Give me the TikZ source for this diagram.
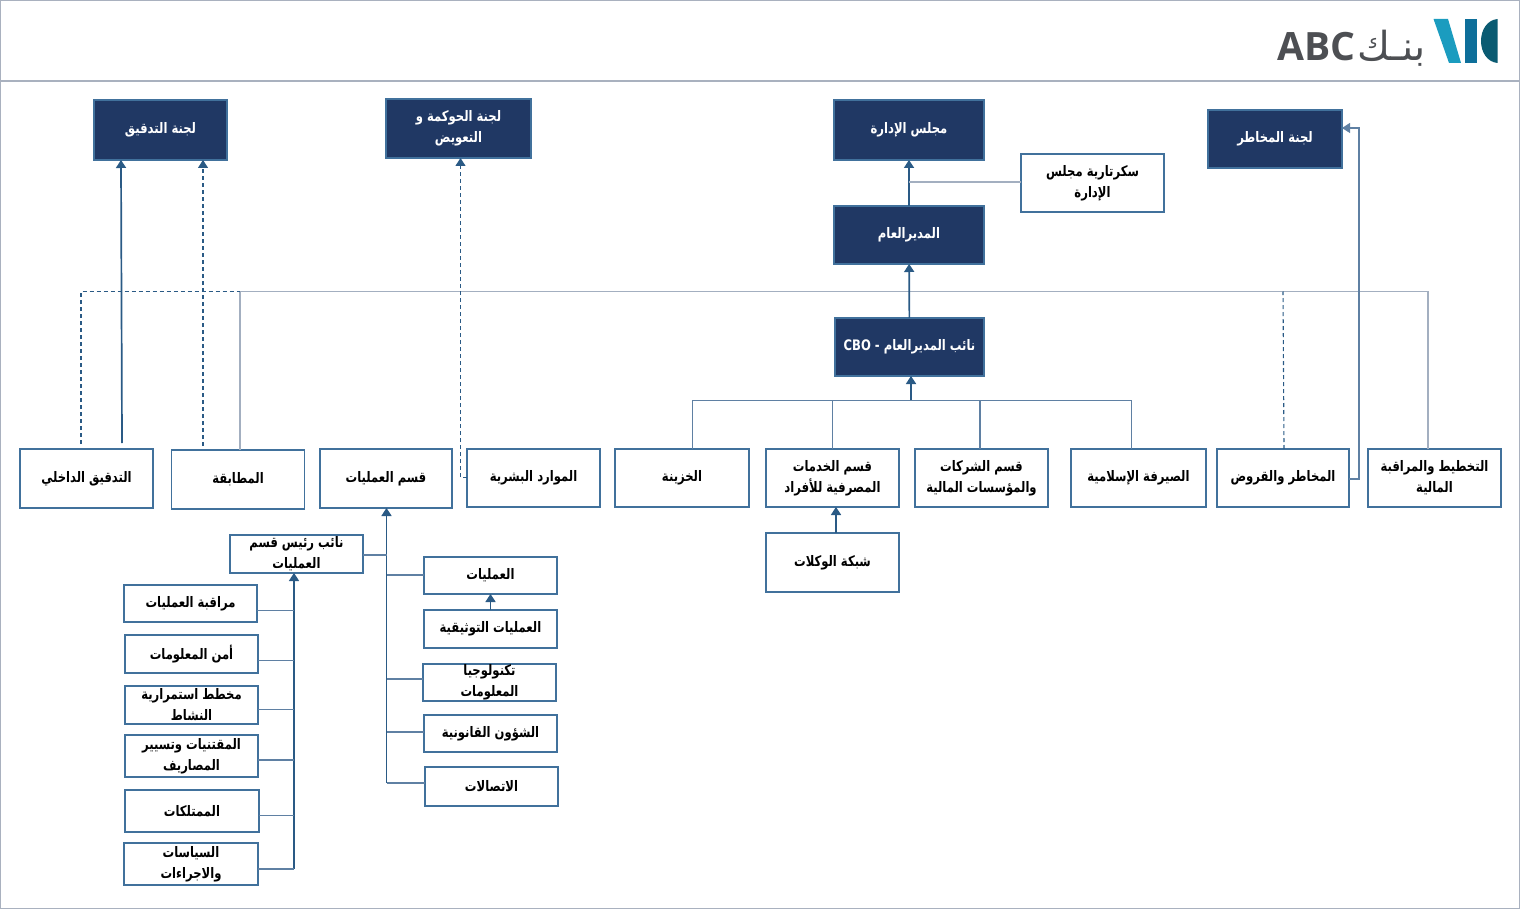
\documentclass[tikz,border=0pt]{standalone}
\usepackage{fontspec}
\usepackage{xcolor}
\usepackage{tikz}
\usetikzlibrary{arrows.meta,calc}
\TeXXeTstate=1
\newfontfamily\arabicfont[Script=Arabic,FakeStretch=0.8]{DejaVu Sans}
\newfontfamily\logoarabic[Script=Arabic]{DejaVu Sans}
\newfontfamily\logofont{Open Sans}
\newcommand{\ar}[1]{\raisebox{-1pt}{\arabicfont\bfseries\beginR #1\endR}}
\definecolor{navyfill}{HTML}{203864}
\definecolor{boxedge}{HTML}{41719C}
\definecolor{linkdark}{HTML}{2A5A85}
\definecolor{linkmid}{HTML}{5F80A3}
\definecolor{linkgrey}{HTML}{A3AFC0}
\definecolor{framegrey}{HTML}{A9B1BF}
\definecolor{logogrey}{HTML}{4D4F53}
\tikzset{
  plainbox/.style={draw=boxedge,line width=1.6pt,fill=white,text=black,inner sep=0pt,outer sep=0pt,
    align=center,font=\fontsize{14.5}{21}\selectfont},
  navybox/.style={plainbox,fill=navyfill,text=white},
  mainlink/.style={draw=linkdark,line width=1.7pt},
  thinlink/.style={draw=linkmid,line width=1.1pt},
  greylink/.style={draw=linkgrey,line width=1.3pt},
  dashlink/.style={draw=linkdark,line width=1.1pt,dash pattern=on 4pt off 3pt},
  tip/.style={-{Triangle[length=8pt,width=10pt]}}
}
\begin{document}
\begin{tikzpicture}[x=1pt,y=-1pt]
\useasboundingbox (0,0) rectangle (1520,909);
\draw[framegrey,line width=1.4pt] (0.7,0.7) rectangle (1519.3,908.3);
\draw[framegrey,line width=1.2pt] (0,81) -- (1520,81);

\fill[fill={rgb,255:red,27;green,156;blue,191}] (1433.5,19) -- (1448,19) -- (1461,63) -- (1449,63) -- cycle;
\fill[fill={rgb,255:red,14;green,111;blue,154}] (1465,19) rectangle (1477.3,63);
\fill[fill={rgb,255:red,10;green,91;blue,114}] (1497.5,19) .. controls (1487,20) and (1481,30) .. (1481,41) .. controls (1481,52) and (1487,62) .. (1497.5,63) -- cycle;
\node[text=logogrey,anchor=east,inner sep=0pt,font=\logofont\bfseries\fontsize{39}{39}\selectfont] (logoabc) at (1356,47) {ABC};
\node[text=logogrey,anchor=east,inner sep=0pt,font=\fontsize{40}{40}\selectfont] (logoar) at (1426,48) {{\logoarabic\beginR بنـك\endR}};

\foreach \nm/\cx/\cy/\w/\h/\lab in {
  audit/160.5/130/133/60/{\ar{لجنة التدقيق}},
  gov/458.5/128.5/145/59/{\ar{لجنة الحوكمة و}\\\ar{التعويض}},
  board/909/130/150/60/{\ar{مجلس الإدارة}},
  riskc/1275/139/134/58/{\ar{لجنة المخاطر}},
  gm/909/235/150/58/{\ar{المديرالعام}},
  cbo/909.5/347/149/58/{\ar{نائب المديرالعام - \beginL CBO\endL}}}{
  \node[navybox,minimum width=\w,minimum height=\h] (\nm) at (\cx,\cy) {\lab};
}
\foreach \nm/\cx/\cy/\w/\h/\lab in {
  sec/1092.5/183/143/58/{\ar{سكرتارية مجلس}\\\ar{الإدارة}},
  iaudit/86.5/478.5/133/59/{\ar{التدقيق الداخلي}},
  comp/238/479.5/133/59/{\ar{المطابقة}},
  opsd/386/478.5/132/59/{\ar{قسم العمليات}},
  hr/533.5/478/133/58/{\ar{الموارد البشرية}},
  treas/682/478/134/58/{\ar{الخزينة}},
  retail/832.5/478/133/58/{\ar{قسم الخدمات}\\\ar{المصرفية للأفراد}},
  corp/981.5/478/133/58/{\ar{قسم الشركات}\\\ar{والمؤسسات المالية}},
  islamic/1138.5/478/135/58/{\ar{الصيرفة الإسلامية}},
  risk/1283/478/132/58/{\ar{المخاطر والقروض}},
  plan/1434.5/478/133/58/{\ar{التخطيط والمراقبة}\\\ar{المالية}},
  agency/832.5/562.5/133/59/{\ar{شبكة الوكلات}},
  deputy/296.5/554/132.5/38/{\ar{نائب رئيس قسم}\\\ar{العمليات}},
  monitor/190.5/603.5/133/37/{\ar{مراقبة العمليات}},
  infosec/191.5/654/133/38/{\ar{أمن المعلومات}},
  bcp/191.5/705/133/38/{\ar{مخطط استمرارية}\\\ar{النشاط}},
  proc/191.5/756/133/42/{\ar{المقتنيات وتسيير}\\\ar{المصاريف}},
  prop/192/811/134/42/{\ar{الممتلكات}},
  policy/191/864/134/42/{\ar{السياسات}\\\ar{والاجراءات}},
  opsu/490.5/575.5/133/37/{\ar{العمليات}},
  docs/490.5/629/133/38/{\ar{العمليات التوثيقية}},
  itd/489.5/682.5/133/37/{\ar{تكنولوجيا}\\\ar{المعلومات}},
  legal/490.5/733.5/133/37/{\ar{الشؤون القانونية}},
  comm/491.5/786.5/133/39/{\ar{الاتصالات}}}{
  \node[plainbox,minimum width=\w,minimum height=\h] (\nm) at (\cx,\cy) {\lab};
}

\coordinate (busT) at (909,291.5);
\coordinate (busL) at (240,291.5);
\coordinate (busB) at (911,400.5);
\coordinate (auditA) at (122,443);
\coordinate (auditB) at (81,444);
\coordinate (compB) at (203,446);
\coordinate (hrUp) at (460.5,477.5);
\coordinate (riskUp) at (1359,479);
\coordinate (trunkO) at (386.5,783);
\coordinate (trunkD) at (294,869);

\draw[greylink] (comp.north -| busL) |- (busT);
\draw[greylink] (plan.north -| 1428,0) |- (busT);
\draw[dashlink] (auditB) |- (busL);
\draw[dashlink] (risk.north -| 1284,0) -- (1283,0 |- busT);
\draw[mainlink,tip] (auditA) -- (audit.south -| 121,0);
\draw[dashlink,tip] (compB) -- (audit.south -| compB);
\draw[dashlink,tip] (hr.west |- hrUp) -- (hrUp) -- (gov.south -| hrUp);
\draw[thinlink,tip] (risk.east |- riskUp) -- (riskUp) |- (riskc.east |- 0,128);
\draw[mainlink,tip] (gm) -- (board);
\draw[greylink] (sec.west |- 0,182) -- (gm.north |- 0,182);
\draw[mainlink,tip] (cbo) -- (gm);
\draw[mainlink,tip] (busB) -- (cbo.south -| busB);
\foreach \nm/\cx in {treas/692.5,retail/832.5,corp/980,islamic/1131.5}{
  \draw[thinlink] (\nm.north -| \cx,0) |- (busB);
}
\draw[mainlink,tip] (agency.north -| 836,0) -- (retail.south -| 836,0);
\draw[mainlink,tip] (docs) -- (opsu);
\draw[mainlink,tip] (trunkO) -- (opsd.south -| trunkO);
\foreach \nm/\y in {opsu/575,itd/679,legal/732,comm/783}{
  \draw[thinlink] (\nm.west |- 0,\y) -- (trunkO |- 0,\y);
}
\draw[thinlink] (deputy.east |- 0,555) -- (trunkO |- 0,555);
\draw[mainlink,tip] (trunkD) -- (deputy.south -| trunkD);
\foreach \nm/\y in {monitor/610.5,infosec/660.5,bcp/709.5,proc/760,prop/815.5,policy/869}{
  \draw[thinlink] (\nm.east |- 0,\y) -- (trunkD |- 0,\y);
}
\end{tikzpicture}
\end{document}
